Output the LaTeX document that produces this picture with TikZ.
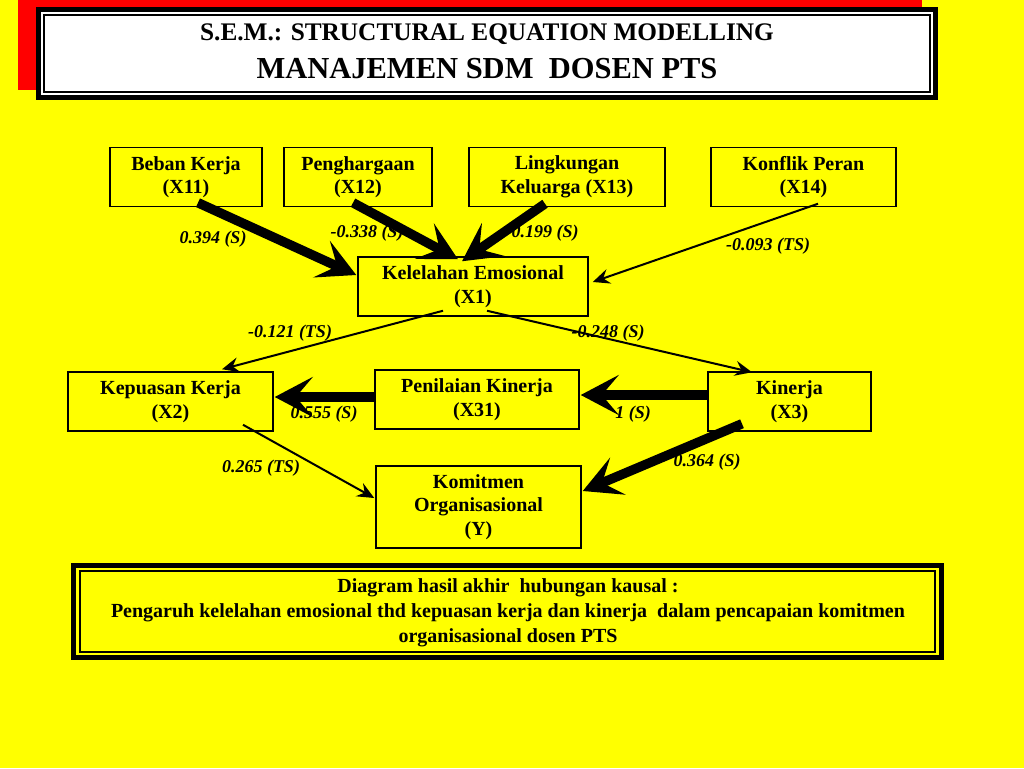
\documentclass[tikz,border=0pt]{standalone}
\usepackage{fontspec}
\setmainfont{Liberation Serif}
\usetikzlibrary{arrows.meta}
\definecolor{bgyellow}{RGB}{255,255,0}
\definecolor{topred}{RGB}{255,0,0}
\begin{document}
\begin{tikzpicture}[x=1pt,y=-1pt,
  box/.style={draw=black, line width=1.5pt, fill=bgyellow, align=center, inner sep=0pt,
    font=\fontsize{20}{23.5}\selectfont\bfseries},
  lbl/.style={inner sep=0pt, font=\fontsize{18}{20}\selectfont\bfseries\itshape},
  bigarrow/.style={line width=9.5pt, -{Stealth[length=38pt,width=40pt,inset=17pt]}},
  thinarrow/.style={line width=2pt, -{Stealth[length=17pt,width=15pt,inset=6pt]}}]
\useasboundingbox (0,0) rectangle (1024,768);
\fill[bgyellow] (0,0) rectangle (1024,768);
% title
\fill[topred] (18,0) rectangle (922,90);
\draw[line width=5pt, fill=white] (38.5,9.5) rectangle (935.5,97.5);
\draw[line width=1.5pt] (44,15) rectangle (930,92);
\node[font=\fontsize{25.3}{28}\selectfont\bfseries, inner sep=0pt] (t1) at (487,34) {S.E.M.: STRUCTURAL EQUATION MODELLING};
\node[font=\fontsize{30.5}{34}\selectfont\bfseries, inner sep=0pt] (t2) at (487,69) {MANAJEMEN SDM\ \ DOSEN PTS};
% boxes
\node[box, minimum width=152pt, minimum height=59pt] (x11) at (186,177) {Beban Kerja\\(X11)};
\node[box, minimum width=148pt, minimum height=59pt] (x12) at (358,177) {Penghargaan\\(X12)};
\node[box, minimum width=196pt, minimum height=59pt] (x13) at (567,177) {Lingkungan\\Keluarga (X13)};
\node[box, minimum width=185pt, minimum height=59pt] (x14) at (803.5,177) {Konflik Peran\\(X14)};
\node[box, minimum width=230pt, minimum height=59pt] (x1) at (473,286.5) {Kelelahan Emosional\\(X1)};
\node[box, minimum width=205pt, minimum height=59pt] (x2) at (170.5,401.5) {Kepuasan Kerja\\(X2)};
\node[box, minimum width=204pt, minimum height=59pt] (x31) at (477,399.5) {Penilaian Kinerja\\(X31)};
\node[box, minimum width=163pt, minimum height=59pt] (x3) at (789.5,401.5) {Kinerja\\(X3)};
\node[box, minimum width=205pt, minimum height=82pt] (y) at (478.5,507) {Komitmen\\Organisasional\\(Y)};
% labels
\node[lbl] (l1) at (213,239) {0.394 (S)};
\node[lbl] (l2) at (367,233) {-0.338 (S)};
\node[lbl] (l3) at (545,233) {0.199 (S)};
\node[lbl] (l4) at (768,246) {-0.093 (TS)};
\node[lbl] (l5) at (290,333) {-0.121 (TS)};
\node[lbl] (l6) at (608,333) {-0.248 (S)};
\node[lbl] (l7) at (324,414) {0.555 (S)};
\node[lbl] (l8) at (633,414) {1 (S)};
\node[lbl] (l9) at (261,468) {0.265 (TS)};
\node[lbl] (l10) at (707,462) {0.364 (S)};
% arrows
\draw[bigarrow] ([xshift=12pt,yshift=4.5pt]x11.south) -- ([xshift=-1pt,yshift=11.5pt]x1.west);
\draw[bigarrow] ([xshift=-5pt,yshift=4.5pt]x12.south) -- ([xshift=-15pt,yshift=-3pt]x1.north);
\draw[bigarrow] ([xshift=-22pt,yshift=3.5pt]x13.south) -- ([xshift=-11pt,yshift=-5pt]x1.north);
\draw[thinarrow] ([xshift=14.5pt,yshift=3.5pt]x14.south) -- ([xshift=4pt,yshift=4.5pt]x1.east);
\draw[thinarrow] ([xshift=-30pt,yshift=6pt]x1.south) -- ([xshift=51.5pt,yshift=2pt]x2.north);
\draw[thinarrow] ([xshift=14pt,yshift=6pt]x1.south) -- ([xshift=-37.5pt,yshift=-1pt]x3.north);
\draw[bigarrow] ([yshift=2.5pt]x31.west) -- ([xshift=1pt,yshift=4.5pt]x2.east);
\draw[bigarrow] ([yshift=6.5pt]x3.west) -- ([xshift=1pt,yshift=4.5pt]x31.east);
\draw[thinarrow] ([xshift=72.5pt,yshift=7pt]x2.south) -- ([xshift=-1pt,yshift=9pt]y.west);
\draw[bigarrow] ([xshift=-47.5pt,yshift=8pt]x3.south) -- ([xshift=1pt,yshift=16pt]y.east);
% bottom box
\draw[line width=5pt] (73.5,565.5) rectangle (941.5,657.5);
\draw[line width=1.5pt] (80,571) rectangle (935,652);
\node[align=center, inner sep=0pt, font=\fontsize{20}{25}\selectfont\bfseries] (cap) at (508,612.5)
  {Diagram hasil akhir\ \ hubungan kausal :\\Pengaruh kelelahan emosional thd kepuasan kerja dan kinerja\ \ dalam pencapaian komitmen\\organisasional dosen PTS};
\end{tikzpicture}
\end{document}
